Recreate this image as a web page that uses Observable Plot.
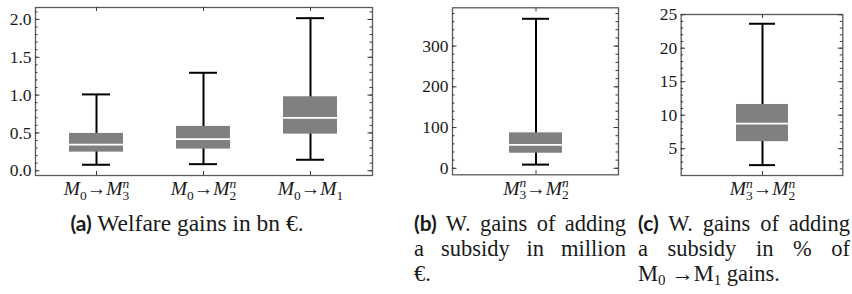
<!DOCTYPE html>
<html>
<head>
<meta charset="utf-8">
<script src="https://cdn.jsdelivr.net/npm/d3@7"></script>
<script src="https://cdn.jsdelivr.net/npm/@observablehq/plot@0.6"></script>
<style>
  html, body { margin: 0; padding: 0; background: #fff; }
  #root { position: relative; width: 852px; height: 294px; overflow: hidden; }
  .pnl { position: absolute; }
  .cap { position: absolute; font-family: "Liberation Serif", "DejaVu Serif", serif; font-size: 22.5px; line-height: 25px; color: #1a1a1a; white-space: nowrap; }
  .cap .lb { font-family: Lato, "Open Sans", sans-serif; font-weight: 700; font-size: 21px; }
  .cap .j { text-align: justify; text-align-last: justify; }
  .cap sub { font-size: 15px; vertical-align: -4px; line-height: 0; }
</style>
</head>
<body>
<div id="root"></div>
<script>
// ---------- data ----------
const catsA = ["M0→M3n", "M0→M2n", "M0→M1"];
const minA = [0.079, 0.087, 0.145];
const q1A  = [0.246, 0.286, 0.484];
const medA = [0.344, 0.418, 0.700];
const q3A  = [0.493, 0.586, 0.978];
const maxA = [1.009, 1.295, 2.017];
const ticksA = [0, 0.5, 1, 1.5, 2];

const catsB = ["M3n→M2n"];
const minB = [9];
const q1B  = [37];
const medB = [57.5];
const q3B  = [87];
const maxB = [367];
const ticksB = [0, 100, 200, 300];

const catsC = ["M3n→M2n"];
const minC = [2.55];
const q1C  = [6.05];
const medC = [8.75];
const q3C  = [11.6];
const maxC = [23.65];
const ticksC = [5, 10, 15, 20, 25];

const labelParts = {
  "M0→M3n": [["M","i"],["0","sub"],["→",""],["M","i"],["3","sub"],["n","sup"]],
  "M0→M2n": [["M","i"],["0","sub"],["→",""],["M","i"],["2","sub"],["n","sup"]],
  "M0→M1":  [["M","i"],["0","sub"],["→",""],["M","i"],["1","sub"]],
  "M3n→M2n": [["M","i"],["3","sub"],["n","sup"],["→",""],["M","i"],["2","sub"],["n","sup"]]
};

// ---------- helpers ----------
const NS = "http://www.w3.org/2000/svg";
const SERIF = "'Liberation Serif', 'DejaVu Serif', serif";
function rows(cats, mn, q1, md, q3, mx) {
  return cats.map((c, i) => ({cat: c, min: mn[i], q1: q1[i], med: md[i], q3: q3[i], max: mx[i]}));
}
function styleLabels(svg) {
  svg.querySelectorAll('g[aria-label="x-axis tick label"] text').forEach(t => {
    const key = t.textContent.trim();
    const parts = labelParts[key];
    if (!parts) return;
    while (t.firstChild) t.removeChild(t.firstChild);
    let cur = 0;
    parts.forEach(([s, kind]) => {
      const ts = document.createElementNS(NS, "tspan");
      ts.textContent = s;
      let target = 0;
      if (kind === "sub") { target = 4.5; ts.setAttribute("font-size", "13.5"); }
      else if (kind === "sup") { target = -7.5; ts.setAttribute("font-size", "13.5"); ts.setAttribute("font-style", "italic"); ts.setAttribute("dx", "-6.8"); }
      else if (kind === "i") { ts.setAttribute("font-style", "italic"); }
      if (target !== cur) ts.setAttribute("dy", String(target - cur));
      cur = target;
      t.appendChild(ts);
    });
  });
}
function panel({data, cats, ticks, minorStep, yDomain, fmt, width, height, mL, mR, mT, mB, po, pi, left, top, capInset}) {
  const pw = width - mL - mR, ph = height - mT - mB;
  const [y0, y1] = yDomain;
  const minor = d3.range(Math.ceil(y0 / minorStep) * minorStep, y1, minorStep)
    .map(v => +v.toFixed(6)).filter(v => v > y0 && v < y1);
  const major = ticks.filter(v => v >= y0 && v <= y1);
  const tc = "#3a3a3a";
  const svg = Plot.plot({
    width, height,
    marginLeft: mL, marginRight: mR, marginTop: mT, marginBottom: mB,
    style: {fontFamily: SERIF, fontSize: "17.5px", color: "#1a1a1a", background: "transparent", overflow: "visible"},
    x: {type: "band", domain: cats, paddingInner: pi, paddingOuter: po, axis: null, label: null},
    y: {domain: yDomain, axis: null, label: null},
    marks: [
      Plot.frame({stroke: "#5a5a5a", strokeWidth: 1.3}),
      Plot.tickY(major, {y: d => d, insetRight: pw - 4.5, stroke: tc, strokeWidth: 1}),
      Plot.tickY(major, {y: d => d, insetLeft: pw - 4.5, stroke: tc, strokeWidth: 1}),
      Plot.tickY(minor, {y: d => d, insetRight: pw - 2.5, stroke: tc, strokeWidth: 1}),
      Plot.tickY(minor, {y: d => d, insetLeft: pw - 2.5, stroke: tc, strokeWidth: 1}),
      Plot.tickX(cats, {x: d => d, insetBottom: ph - 4, stroke: tc, strokeWidth: 1}),
      Plot.tickX(cats, {x: d => d, insetTop: ph - 4, stroke: tc, strokeWidth: 1}),
      Plot.axisY({ticks: major, tickSize: 0, tickPadding: 4, tickFormat: fmt, fontSize: 17.5, label: null}),
      Plot.axisX({tickSize: 0, tickPadding: 6, fontSize: 19.5, label: null}),
      Plot.ruleX(data, {x: "cat", y1: "min", y2: "max", stroke: "#000", strokeWidth: 2}),
      Plot.barY(data, {x: "cat", y1: "q1", y2: "q3", fill: "#808080"}),
      Plot.tickY(data, {x: "cat", y: "med", stroke: "#fff", strokeWidth: 1.8}),
      Plot.tickY(data, {x: "cat", y: "max", stroke: "#000", strokeWidth: 2, insetLeft: capInset, insetRight: capInset}),
      Plot.tickY(data, {x: "cat", y: "min", stroke: "#000", strokeWidth: 2, insetLeft: capInset, insetRight: capInset})
    ]
  });
  styleLabels(svg);
  const wrap = document.createElement("div");
  wrap.className = "pnl";
  wrap.style.left = left + "px";
  wrap.style.top = top + "px";
  wrap.appendChild(svg);
  document.getElementById("root").appendChild(wrap);
}

panel({
  data: rows(catsA, minA, q1A, medA, q3A, maxA), cats: catsA, ticks: ticksA, minorStep: 0.1,
  yDomain: [-0.063, 2.158], fmt: d3.format(".1f"),
  width: 380, height: 200, mL: 35, mR: 8, mT: 7, mB: 25, pi: 0.495, po: 0.32, left: 0, top: 0, capInset: 13
});
panel({
  data: rows(catsB, minB, q1B, medB, q3B, maxB), cats: catsB, ticks: ticksB, minorStep: 20,
  yDomain: [-16, 394], fmt: d3.format("d"),
  width: 220, height: 200, mL: 52, mR: 2, mT: 7.3, mB: 25.7, pi: 0, po: 1.045, left: 400, top: 0, capInset: 13
});
panel({
  data: rows(catsC, minC, q1C, medC, q3C, maxC), cats: catsC, ticks: ticksC, minorStep: 1,
  yDomain: [1, 25.03], fmt: d3.format("d"),
  width: 210, height: 200, mL: 40.7, mR: 7.7, mT: 14, mB: 25, pi: 0, po: 1.033, left: 640, top: 0, capInset: 13
});

// ---------- captions ----------
const root = document.getElementById("root");
function cap(left, width, html, align, size) {
  const d = document.createElement("div");
  d.className = "cap";
  d.style.left = left + "px";
  d.style.top = "210px";
  d.style.width = width + "px";
  if (align) d.style.textAlign = align;
  if (size) d.style.fontSize = size;
  d.innerHTML = html;
  root.appendChild(d);
}
cap(27, 320, '<span class="lb">(a)</span> Welfare gains in bn €.', "center", "23.5px");
cap(414, 212, '<div class="j"><span class="lb">(b)</span> W. gains of adding</div><div class="j">a subsidy in million</div><div>€.</div>');
cap(638, 212, '<div class="j"><span class="lb">(c)</span> W. gains of adding</div><div class="j">a subsidy in % of</div><div>M<sub>0</sub> →M<sub>1</sub> gains.</div>');
</script>
</body>
</html>
